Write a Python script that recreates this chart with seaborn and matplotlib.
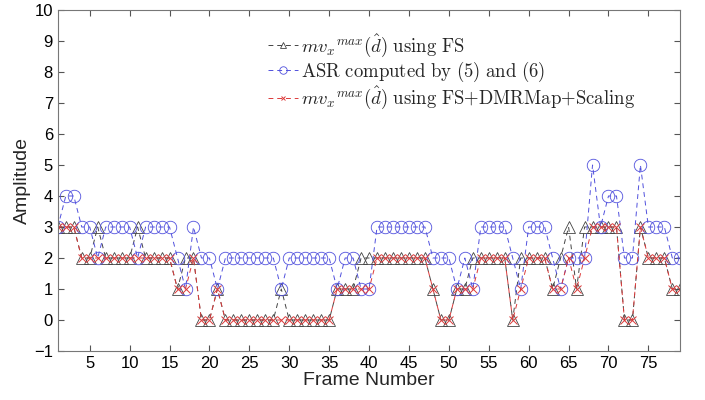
import numpy as np
import pandas as pd
import matplotlib
matplotlib.use("Agg")
import matplotlib.pyplot as plt
import seaborn as sns

frames = list(range(1, 80))
fs = [3, 3, 3, 2, 2, 3, 2, 2, 2, 2,
      3, 2, 2, 2, 2, 1, 2, 2, 0, 0,
      1, 0, 0, 0, 0, 0, 0, 0, 1, 0,
      0, 0, 0, 0, 0, 1, 1, 1, 2, 2,
      2, 2, 2, 2, 2, 2, 2, 1, 0, 0,
      1, 1, 2, 2, 2, 2, 2, 0, 2, 2,
      2, 2, 1, 2, 3, 1, 3, 3, 3, 3,
      3, 0, 0, 3, 2, 2, 2, 1, 1]
asr = [3, 4, 4, 3, 3, 2, 3, 3, 3, 3,
       2, 3, 3, 3, 3, 2, 1, 3, 2, 2,
       1, 2, 2, 2, 2, 2, 2, 2, 1, 2,
       2, 2, 2, 2, 2, 1, 2, 2, 1, 1,
       3, 3, 3, 3, 3, 3, 3, 2, 2, 2,
       1, 2, 1, 3, 3, 3, 3, 2, 1, 3,
       3, 3, 2, 1, 2, 2, 2, 5, 3, 4,
       4, 2, 2, 5, 3, 3, 3, 2, 2]
fs_dmr = [3, 3, 3, 2, 2, 2, 2, 2, 2, 2,
          2, 2, 2, 2, 2, 1, 1, 2, 0, 0,
          1, 0, 0, 0, 0, 0, 0, 0, 0, 0,
          0, 0, 0, 0, 0, 1, 1, 1, 1, 1,
          2, 2, 2, 2, 2, 2, 2, 1, 0, 0,
          1, 1, 1, 2, 2, 2, 2, 0, 1, 2,
          2, 2, 1, 1, 2, 1, 2, 3, 3, 3,
          3, 0, 0, 3, 2, 2, 2, 1, 1]

labels = [r'$mv_x{}^{max}(\hat{d})\ \mathrm{using\ FS}$',
          r'$\mathrm{ASR\ computed\ by\ (5)\ and\ (6)}$',
          r'$mv_x{}^{max}(\hat{d})\ \mathrm{using\ FS{+}DMRMap{+}Scaling}$']

sns.set_style("white")
plt.rcParams['font.family'] = ['Liberation Sans', 'DejaVu Sans']
plt.rcParams['mathtext.fontset'] = 'cm'

fig = plt.figure(figsize=(7.05, 4.0), dpi=100)
ax = fig.add_axes([0.082, 0.1225, 0.883, 0.8525])

dash = (0, (5, 4))
c_fs, c_asr, c_dmr = '#444444', '#5050dd', '#dd3a3a'
sns.lineplot(x=frames, y=fs, ax=ax, color=c_fs, linestyle=dash, linewidth=0.7,
             marker='^', markersize=8, markerfacecolor='none', markeredgecolor=c_fs,
             markeredgewidth=0.6, label=labels[0])
sns.lineplot(x=frames, y=asr, ax=ax, color=c_asr, linestyle=dash, linewidth=0.7,
             marker='o', markersize=9, markerfacecolor='none', markeredgecolor=c_asr,
             markeredgewidth=0.6, label=labels[1])
sns.lineplot(x=frames, y=fs_dmr, ax=ax, color=c_dmr, linestyle=dash, linewidth=0.7,
             marker='x', markersize=5.5, markeredgecolor=c_dmr,
             markeredgewidth=0.7, label=labels[2])

ax.set_xlim(1, 79)
ax.set_ylim(-1, 10)
ax.set_xticks(list(range(5, 80, 5)))
ax.set_yticks(list(range(-1, 11)))
ax.tick_params(direction='in', length=4, width=0.8, colors='#555555', labelcolor='black',
               labelsize=12, top=True, right=True, bottom=True, left=True)
for s in ax.spines.values():
    s.set_color('#777777')
    s.set_linewidth(0.8)
ax.set_xlabel('Frame Number', fontsize=14, labelpad=1)
ax.set_ylabel('Amplitude', fontsize=14, labelpad=2)

leg = ax.legend(loc='upper left', bbox_to_anchor=(0.31, 0.985), frameon=False,
                fontsize=13.5, handlelength=1.6, handletextpad=0.2, labelspacing=0.05,
                markerscale=0.6)

fig.savefig('out.png', dpi=100)
